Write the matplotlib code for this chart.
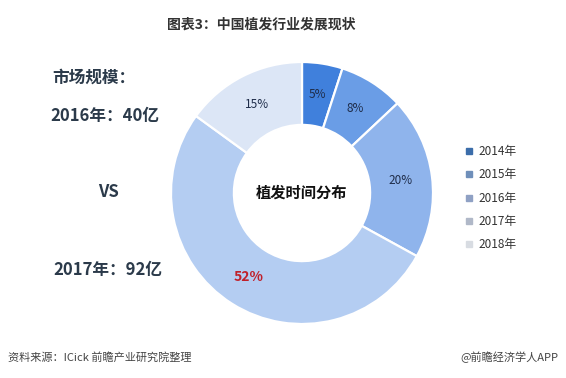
import matplotlib
matplotlib.use("Agg")
import matplotlib.pyplot as plt
from matplotlib.lines import Line2D

plt.rcParams['font.family'] = ['Noto Sans CJK SC', 'DejaVu Sans']

years = ['2014年', '2015年', '2016年', '2017年', '2018年']
shares = [5, 8, 20, 52, 15]
slice_colors = ['#4080DC', '#6A9DE6', '#8FB4EC', '#B4CDF2', '#DCE6F6']
legend_colors = ['#3B6DAA', '#6F8FBA', '#8FA1C4', '#B0B8C8', '#D8DCE2']
label_colors = ['#1F2D4A', '#1F2D4A', '#1F2D4A', '#C0202A', '#1F2D4A']

title = '图表3：中国植发行业发展现状'
center_text = '植发时间分布'
side_texts = ['市场规模：', '2016年：40亿', 'VS', '2017年：92亿']
source_text = '资料来源：ICick 前瞻产业研究院整理'
brand_text = '@前瞻经济学人APP'


def main():
    fig = plt.figure(figsize=(5.66, 3.78), dpi=100)
    W, H = 566, 378

    ax = fig.add_axes([171 / W, 54 / H, 262 / W, 262 / H])
    wedges, texts, autotexts = ax.pie(
        shares, colors=slice_colors, startangle=90, counterclock=False,
        radius=1, autopct='%d%%', pctdistance=0.76,
        wedgeprops=dict(width=0.48, edgecolor='white', linewidth=1.6),
        textprops=dict(fontsize=8.5),
    )
    for t, c in zip(autotexts, label_colors):
        t.set_color(c)
    autotexts[3].set_fontweight('bold')
    autotexts[3].set_fontsize(10)
    ax.set_xlim(-1, 1)
    ax.set_ylim(-1, 1)
    ax.set_aspect('equal')
    ax.text(0, 0, center_text, ha='center', va='center', fontsize=11,
            fontweight='bold', color='#111111')

    # titles and side notes
    fig.text(261 / W, 1 - 25 / H, title, ha='center', va='center',
             fontsize=10, fontweight='bold', color='#333333')
    dark = '#2B3A4A'
    fig.text(52 / W, 1 - 78 / H, side_texts[0], ha='left', va='center',
             fontsize=12, fontweight='bold', color=dark)
    fig.text(50 / W, 1 - 116 / H, side_texts[1], ha='left', va='center',
             fontsize=12, fontweight='bold', color=dark)
    fig.text(108 / W, 1 - 192 / H, side_texts[2], ha='center', va='center',
             fontsize=12, fontweight='bold', color=dark)
    fig.text(53 / W, 1 - 270 / H, side_texts[3], ha='left', va='center',
             fontsize=12, fontweight='bold', color=dark)

    fig.text(8 / W, 1 - 357 / H, source_text, ha='left', va='center',
             fontsize=8, style='italic', color='#444444')
    fig.text(558 / W, 1 - 357 / H, brand_text, ha='right', va='center',
             fontsize=8, color='#444444')

    handles = [Line2D([], [], marker='s', linestyle='none', markersize=5,
                      markerfacecolor=c, markeredgecolor=c)
               for c in legend_colors]
    fig.legend(handles, years, loc='upper left',
               bbox_to_anchor=(458 / W, 1 - 139 / H), frameon=False,
               fontsize=8.5, handlelength=0.8, handletextpad=0.4,
               labelspacing=0.88, borderpad=0, labelcolor='#333333')

    fig.savefig('out.png', dpi=100, facecolor='white')


if __name__ == "__main__":
    main()
